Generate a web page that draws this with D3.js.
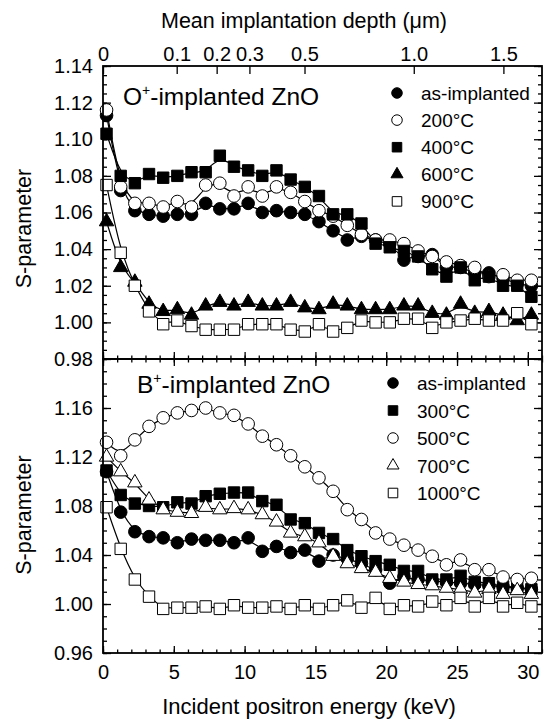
<!DOCTYPE html>
<html>
<head>
<meta charset="utf-8">
<script src="https://cdn.jsdelivr.net/npm/d3@7"></script>
<style>
  body { margin: 0; background: #fff; }
  svg { font-family: "Liberation Sans", Arial, sans-serif; }
</style>
</head>
<body>
<div id="chart"></div>
<script>
// Incident positron energy (keV)
const energy = [0.25, 1.25, 2.25, 3.25, 4.25, 5.25, 6.25, 7.25, 8.25, 9.25, 10.25,
  11.25, 12.25, 13.25, 14.25, 15.25, 16.25, 17.25, 18.25, 19.25, 20.25,
  21.25, 22.25, 23.25, 24.25, 25.25, 26.25, 27.25, 28.25, 29.25, 30.25];

// O+ implanted ZnO
const oLabels = ["as-implanted", "200°C", "400°C", "600°C", "900°C"];
const oAsImplanted = [1.113, 1.072, 1.061, 1.059, 1.058, 1.059, 1.059, 1.065, 1.062, 1.062, 1.065,
  1.060, 1.061, 1.060, 1.059, 1.055, 1.050, 1.045, 1.047, 1.045, 1.043,
  1.034, 1.036, 1.037, 1.030, 1.030, 1.027, 1.027, 1.024, 1.021, 1.020];
const o200 = [1.116, 1.074, 1.065, 1.065, 1.063, 1.066, 1.063, 1.075, 1.076, 1.069, 1.074,
  1.069, 1.074, 1.071, 1.066, 1.061, 1.058, 1.053, 1.048, 1.045, 1.045,
  1.043, 1.039, 1.036, 1.033, 1.031, 1.030, 1.025, 1.026, 1.023, 1.023];
const o400 = [1.103, 1.080, 1.076, 1.081, 1.079, 1.080, 1.082, 1.082, 1.091, 1.085, 1.083,
  1.080, 1.083, 1.078, 1.074, 1.069, 1.059, 1.059, 1.054, 1.043, 1.041,
  1.039, 1.036, 1.029, 1.025, 1.030, 1.023, 1.025, 1.020, 1.020, 1.014];
const o600 = [1.055, 1.030, 1.022, 1.010, 1.006, 1.007, 1.004, 1.009, 1.011, 1.009, 1.011,
  1.009, 1.009, 1.011, 1.008, 1.007, 1.010, 1.009, 1.007, 1.007, 1.007,
  1.009, 1.009, 1.005, 1.004, 1.010, 1.005, 1.006, 1.004, 1.001, 1.004];
const o900 = [1.075, 1.038, 1.020, 1.006, 0.999, 1.001, 0.998, 0.996, 0.996, 0.996, 0.999,
  0.999, 0.999, 0.996, 0.995, 0.999, 0.995, 0.997, 1.001, 1.000, 1.000,
  1.002, 1.002, 0.997, 1.000, 1.001, 1.002, 1.001, 1.001, 1.005, 0.999];

// B+ implanted ZnO
const bLabels = ["as-implanted", "300°C", "500°C", "700°C", "1000°C"];
const bAsImplanted = [1.108, 1.075, 1.059, 1.055, 1.054, 1.050, 1.053, 1.052, 1.052, 1.050, 1.054,
  1.043, 1.047, 1.042, 1.044, 1.035, 1.040, 1.037, 1.033, 1.028, 1.017,
  1.022, 1.020, 1.019, 1.018, 1.017, 1.016, 1.015, 1.014, 1.013, 1.012];
const b300 = [1.109, 1.089, 1.082, 1.080, 1.079, 1.083, 1.082, 1.088, 1.090, 1.091, 1.091,
  1.084, 1.081, 1.069, 1.066, 1.058, 1.053, 1.044, 1.039, 1.035, 1.032,
  1.027, 1.027, 1.020, 1.020, 1.023, 1.018, 1.017, 1.014, 1.014, 1.012];
const b500 = [1.132, 1.121, 1.134, 1.145, 1.152, 1.156, 1.158, 1.160, 1.156, 1.154, 1.147,
  1.137, 1.130, 1.121, 1.112, 1.103, 1.092, 1.077, 1.069, 1.058, 1.053,
  1.048, 1.044, 1.039, 1.032, 1.036, 1.028, 1.028, 1.022, 1.020, 1.021];
const b700 = [1.120, 1.108, 1.099, 1.085, 1.077, 1.075, 1.074, 1.079, 1.077, 1.078, 1.077,
  1.073, 1.067, 1.058, 1.055, 1.050, 1.039, 1.033, 1.029, 1.026, 1.021,
  1.018, 1.016, 1.015, 1.013, 1.012, 1.009, 1.012, 1.008, 1.011, 1.008];
const b1000 = [1.079, 1.045, 1.020, 1.006, 0.996, 0.997, 0.997, 0.998, 0.996, 0.999, 0.997,
  0.997, 0.998, 0.996, 0.999, 0.996, 0.999, 1.003, 0.997, 1.005, 0.996,
  0.999, 0.998, 1.002, 0.999, 1.005, 0.998, 1.005, 0.998, 1.001, 0.998];

// axis ticks
const energyTicks = [0, 5, 10, 15, 20, 25, 30];
const depthTicks = [0, 0.1, 0.2, 0.3, 0.5, 1.0, 1.5];
const depthTickLabels = ["0", "0.1", "0.2", "0.3", "0.5", "1.0", "1.5"];
const topYTicks = [0.98, 1.00, 1.02, 1.04, 1.06, 1.08, 1.10, 1.12, 1.14];
const botYTicks = [0.96, 1.00, 1.04, 1.08, 1.12, 1.16];

const width = 545, height = 725;
const left = 103, right = 542;

const svg = d3.select("#chart").append("svg")
  .attr("width", width)
  .attr("height", height);

const x = d3.scaleLinear().domain([0, 31]).range([left, right]);
const yTop = d3.scaleLinear().domain([0.98, 1.14]).range([359, 66]);
const yBot = d3.scaleLinear().domain([0.96, 1.20]).range([653, 359]);

// Makhovian mean depth (nm) = 40/rho * E^1.6, rho(ZnO) = 5.6 g/cm3
const depthToEnergy = z => Math.pow(z * 1000 / (40 / 5.6), 1 / 1.6);

const fmt = d3.format(".2f");
const minorX = d3.range(0, 32, 1);

function styleAxis(g) {
  g.select(".domain").remove();
  g.selectAll("line").attr("stroke", "#000").attr("stroke-width", 1.3);
  g.selectAll("text").attr("fill", "#000").style("font-size", "20px");
}

function drawPanel(y, yTicks, minorStep, series, labels, symbols, fills, panelLabel, legendPos) {
  const [y0, y1] = y.domain();
  const minorY = d3.range(Math.round(y0 / minorStep), Math.round(y1 / minorStep) + 1)
    .map(i => i * minorStep);

  // y axes
  svg.append("g").attr("transform", `translate(${left},0)`)
    .call(d3.axisLeft(y).tickValues(yTicks).tickFormat(fmt).tickSizeInner(-8).tickSizeOuter(0).tickPadding(10))
    .call(styleAxis);
  svg.append("g").attr("transform", `translate(${left},0)`)
    .call(d3.axisLeft(y).tickValues(minorY).tickFormat("").tickSizeInner(-4).tickSizeOuter(0))
    .call(styleAxis);
  svg.append("g").attr("transform", `translate(${right},0)`)
    .call(d3.axisRight(y).tickValues(yTicks).tickFormat("").tickSizeInner(-8).tickSizeOuter(0))
    .call(styleAxis);
  svg.append("g").attr("transform", `translate(${right},0)`)
    .call(d3.axisRight(y).tickValues(minorY).tickFormat("").tickSizeInner(-4).tickSizeOuter(0))
    .call(styleAxis);

  // lines
  const line = d3.line()
    .x((d, i) => x(energy[i]))
    .y(d => y(d))
    .curve(d3.curveBasis);

  series.forEach(s => {
    svg.append("path")
      .attr("d", line(s))
      .attr("fill", "none")
      .attr("stroke", "#000")
      .attr("stroke-width", 1.2);
  });

  // markers
  series.forEach((s, si) => {
    const sym = d3.symbol().type(symbols[si].type).size(symbols[si].size);
    svg.append("g").selectAll("path")
      .data(s)
      .join("path")
      .attr("transform", (d, i) => `translate(${x(energy[i])},${y(d)})`)
      .attr("d", sym)
      .attr("fill", fills[si])
      .attr("stroke", "#000")
      .attr("stroke-width", 1);
  });

  // panel label
  const t = svg.append("text")
    .attr("x", panelLabel.x)
    .attr("y", panelLabel.y)
    .style("font-size", "24.5px");
  t.append("tspan").text(panelLabel.ion);
  t.append("tspan").attr("dy", -10).style("font-size", "14px").text("+");
  t.append("tspan").attr("dy", 10).text("-implanted ZnO");

  // legend
  labels.forEach((lab, i) => {
    const ly = legendPos.y + i * legendPos.step;
    const sym = d3.symbol().type(symbols[i].type).size(symbols[i].size * 0.7);
    svg.append("path")
      .attr("transform", `translate(${legendPos.x},${ly})`)
      .attr("d", sym)
      .attr("fill", fills[i])
      .attr("stroke", "#000")
      .attr("stroke-width", 1);
    svg.append("text")
      .attr("x", legendPos.x + 24)
      .attr("y", ly + 7)
      .style("font-size", "19px")
      .text(lab);
  });

  // y label
  const cy = (y.range()[0] + y.range()[1]) / 2 + panelLabel.yLabelShift;
  svg.append("text")
    .attr("transform", `translate(31,${cy}) rotate(-90)`)
    .attr("text-anchor", "middle")
    .style("font-size", "21.5px")
    .text("S-parameter");
}

const circle = { type: d3.symbolCircle, size: 125 };
const square = { type: d3.symbolSquare, size: 130 };
const triangle = { type: d3.symbolTriangle, size: 90 };

drawPanel(yTop, topYTicks, 0.005,
  [oAsImplanted, o200, o400, o600, o900], oLabels,
  [circle, circle, square, triangle, square],
  ["#000", "#fff", "#000", "#000", "#fff"],
  { ion: "O", x: 123, y: 105, yLabelShift: 16 },
  { x: 397, y: 93, step: 27.1 });

drawPanel(yBot, botYTicks, 0.01,
  [bAsImplanted, b300, b500, b700, b1000], bLabels,
  [circle, square, circle, triangle, square],
  ["#000", "#000", "#fff", "#fff", "#fff"],
  { ion: "B", x: 137, y: 393, yLabelShift: 9 },
  { x: 393, y: 383, step: 27.5 });

// x axes: bottom, shared middle, and top depth axis
svg.append("g").attr("transform", "translate(0,653)")
  .call(d3.axisBottom(x).tickValues(energyTicks).tickFormat(d3.format("d")).tickSizeInner(-7).tickSizeOuter(0).tickPadding(12))
  .call(styleAxis);
svg.append("g").attr("transform", "translate(0,653)")
  .call(d3.axisBottom(x).tickValues(minorX).tickFormat("").tickSizeInner(-3.5).tickSizeOuter(0))
  .call(styleAxis);
svg.append("g").attr("transform", "translate(0,359)")
  .call(d3.axisBottom(x).tickValues(energyTicks).tickFormat("").tickSizeInner(-7).tickSizeOuter(0))
  .call(styleAxis);
svg.append("g").attr("transform", "translate(0,359)")
  .call(d3.axisBottom(x).tickValues(minorX).tickFormat("").tickSizeInner(-3.5).tickSizeOuter(0))
  .call(styleAxis);
svg.append("g").attr("transform", "translate(0,359)")
  .call(d3.axisTop(x).tickValues(energyTicks).tickFormat("").tickSizeInner(-7).tickSizeOuter(0))
  .call(styleAxis);
svg.append("g").attr("transform", "translate(0,359)")
  .call(d3.axisTop(x).tickValues(minorX).tickFormat("").tickSizeInner(-3.5).tickSizeOuter(0))
  .call(styleAxis);
svg.append("g").attr("transform", "translate(0,66)")
  .call(d3.axisTop(x).tickValues(depthTicks.map(depthToEnergy))
    .tickFormat((d, i) => depthTickLabels[i]).tickSizeInner(-8).tickSizeOuter(0).tickPadding(5))
  .call(styleAxis);

// frames
[[66, 359], [359, 653]].forEach(([t, b]) => {
  svg.append("rect")
    .attr("x", left).attr("y", t)
    .attr("width", right - left).attr("height", b - t)
    .attr("fill", "none")
    .attr("stroke", "#000")
    .attr("stroke-width", 1.8);
});

// axis titles
svg.append("text")
  .attr("x", 304).attr("y", 28)
  .attr("text-anchor", "middle")
  .style("font-size", "21.5px")
  .text("Mean implantation depth (μm)");
svg.append("text")
  .attr("x", 309).attr("y", 714)
  .attr("text-anchor", "middle")
  .style("font-size", "22px")
  .text("Incident positron energy (keV)");
</script>
</body>
</html>
